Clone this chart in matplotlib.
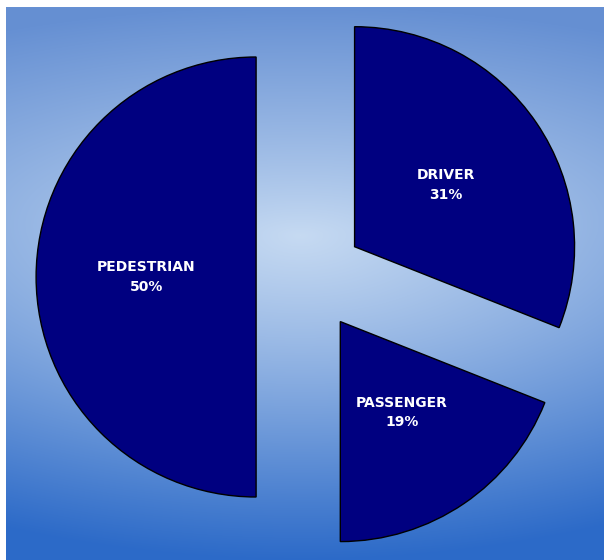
import matplotlib
matplotlib.use("Agg")
import matplotlib.pyplot as plt
import numpy as np

# chart data
categories = ["DRIVER", "PASSENGER", "PEDESTRIAN"]
shares = [31, 19, 50]

W, H = 604, 560
fig = plt.figure(figsize=(W / 100, H / 100), dpi=100)
fig.patch.set_facecolor("white")

# background panel with a soft light spot in the middle
bg_w, bg_h = 598, 553
yy, xx = np.mgrid[0:bg_h, 0:bg_w].astype(float)
cx, cy = 294, 228
dx = (xx - cx) / (bg_w / 2)
dy = np.where(yy < cy, (yy - cy) / cy, (yy - cy) / (bg_h - cy))
t = np.clip(np.sqrt(0.2 * dx ** 2 + dy ** 2), 0, 1)[..., None]
center_col = np.array([198, 218, 242]) / 255
top_col = np.array([102, 144, 211]) / 255
bottom_col = np.array([44, 106, 200]) / 255
s = (yy / (bg_h - 1))[..., None]
s = s * s * (3 - 2 * s)
edge_col = top_col * (1 - s) + bottom_col * s
grad = center_col * (1 - t) + edge_col * t

ax_bg = fig.add_axes([6 / W, 0, bg_w / W, bg_h / H])
ax_bg.imshow(grad, aspect="auto", interpolation="bilinear")
ax_bg.axis("off")

# pie drawn in units of radius (radius = 220 px)
r_px = 220
pcx, pcy = 310, 283
ax = fig.add_axes([0, 0, 1, 1])
ax.patch.set_alpha(0)
labels = [f"{c}\n{v}%" for c, v in zip(categories, shares)]
ax.pie(shares, labels=labels, startangle=90, counterclock=False,
       explode=[0.245] * len(shares), colors=["#000080"] * len(shares),
       wedgeprops={"edgecolor": "black", "linewidth": 1.0},
       labeldistance=0.5,
       textprops={"color": "white", "fontsize": 10, "fontweight": "bold",
                  "ha": "center", "va": "center", "linespacing": 1.5})
ax.set_xlim(-pcx / r_px, (W - pcx) / r_px)
ax.set_ylim(-pcy / r_px, (H - pcy) / r_px)
ax.set_aspect("equal")
ax.axis("off")

fig.savefig("out.png", dpi=100)
